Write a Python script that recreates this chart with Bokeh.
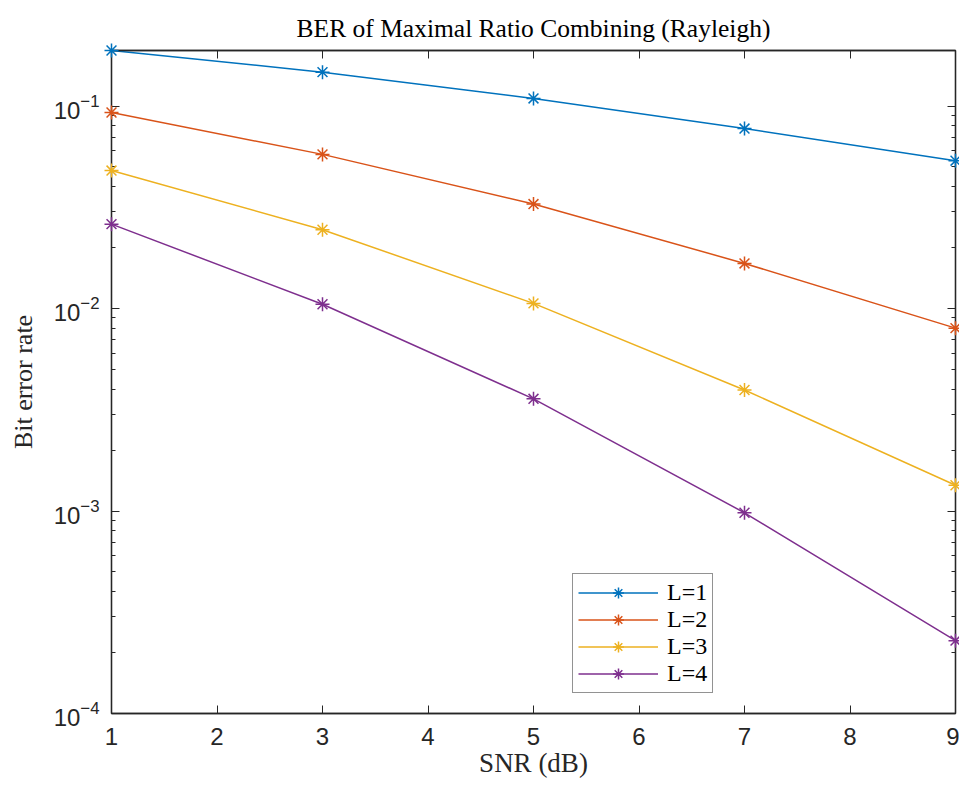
from bokeh.plotting import figure
from bokeh.models import (Range1d, FixedTicker, LinearAxis, LogAxis, Legend, LegendItem,
                          CustomJSTickFormatter)
from bokeh.embed import file_html
from bokeh.resources import INLINE

# ---- data ----
snr_db = [1, 3, 5, 7, 9]
ber_l1 = [0.188, 0.147, 0.109, 0.0774, 0.0537]
ber_l2 = [0.0929, 0.0577, 0.0328, 0.0167, 0.0080]
ber_l3 = [0.0480, 0.0245, 0.0106, 0.00396, 0.00134]
ber_l4 = [0.0261, 0.0105, 0.00358, 0.00098, 0.000229]
series_labels = ["L=1", "L=2", "L=3", "L=4"]
series_colors = ["#0072BD", "#D95319", "#EDB120", "#7E2F8E"]

x_ticks = [1, 2, 3, 4, 5, 6, 7, 8, 9]
y_decades = [1e-4, 1e-3, 1e-2, 1e-1]
y_min, y_max = 1e-4, 0.188

title_text = "BER of Maximal Ratio Combining (Rayleigh)"
x_label = "SNR (dB)"
y_label = "Bit error rate"

AX = "#262626"
SERIF = "Liberation Serif"
SANS = "Liberation Sans"

y_minor = [m * d for d in y_decades for m in range(2, 10) if m * d <= y_max]

p = figure(width=959, height=783, output_backend="svg", toolbar_location=None,
           y_axis_type="log", x_range=Range1d(1, 9), y_range=Range1d(y_min, y_max),
           min_border_left=111, min_border_right=4, min_border_top=50, min_border_bottom=70,
           title=title_text)

p.xgrid.visible = False
p.ygrid.visible = False
p.outline_line_color = AX
p.outline_line_width = 1.3
p.background_fill_color = "white"
p.border_fill_color = "white"

p.title.text_font = SERIF
p.title.text_font_size = "25.5px"
p.title.text_font_style = "normal"
p.title.text_color = "#000000"
p.title.align = "center"
p.title.standoff = 15

# bottom axis
xa = p.xaxis[0]
xa.ticker = FixedTicker(ticks=x_ticks)
xa.major_tick_in = 8
xa.major_tick_out = 0
xa.minor_tick_in = 0
xa.minor_tick_out = 0
xa.axis_line_color = AX
xa.axis_line_width = 1.3
xa.major_tick_line_color = AX
xa.major_label_text_font = SANS
xa.major_label_text_font_size = "24px"
xa.major_label_text_color = AX
xa.major_label_standoff = 14
xa.axis_label = x_label
xa.axis_label_text_font = SERIF
xa.axis_label_text_font_size = "27px"
xa.axis_label_text_font_style = "normal"
xa.axis_label_text_color = AX
xa.axis_label_standoff = 0

# left axis
ya = p.yaxis[0]
ya.ticker = FixedTicker(ticks=y_decades, minor_ticks=y_minor)
ya.major_tick_in = 8
ya.major_tick_out = 0
ya.minor_tick_in = 4
ya.minor_tick_out = 0
ya.axis_line_color = AX
ya.axis_line_width = 1.3
ya.major_tick_line_color = AX
ya.minor_tick_line_color = AX
ya.major_label_text_font = SANS
ya.major_label_text_font_size = "24px"
ya.major_label_text_color = AX
ya.major_label_standoff = 12
ya.axis_label = y_label
ya.axis_label_text_font = SERIF
ya.axis_label_text_font_size = "26px"
ya.axis_label_text_font_style = "normal"
ya.axis_label_text_color = AX
ya.axis_label_standoff = 13

blank = CustomJSTickFormatter(code="return ''")

top = LinearAxis(ticker=FixedTicker(ticks=x_ticks), formatter=blank,
                 major_tick_in=8, major_tick_out=0, minor_tick_in=0, minor_tick_out=0,
                 axis_line_color=AX, axis_line_width=1.3, major_tick_line_color=AX,
                 major_label_standoff=0, major_label_text_font_size="1px")
p.add_layout(top, "above")

right = LogAxis(ticker=FixedTicker(ticks=y_decades, minor_ticks=y_minor), formatter=blank,
                major_tick_in=8, major_tick_out=0, minor_tick_in=4, minor_tick_out=0,
                axis_line_color=AX, axis_line_width=1.3, major_tick_line_color=AX,
                minor_tick_line_color=AX, major_label_standoff=0,
                major_label_text_font_size="1px")
p.add_layout(right, "right")

items = []
for lab, col, ys in zip(series_labels, series_colors, [ber_l1, ber_l2, ber_l3, ber_l4]):
    lr = p.line(snr_db, ys, line_color=col, line_width=1.5)
    sr = p.scatter(snr_db, ys, marker="asterisk", size=14, line_color=col, line_width=1.5,
                   level="overlay")
    items.append(LegendItem(label=lab, renderers=[lr, sr]))

legend = Legend(items=items, location=(461, 20))
legend.label_text_font = SERIF
legend.label_text_font_size = "24px"
legend.label_text_color = "#000000"
legend.glyph_width = 80
legend.glyph_height = 27
legend.label_height = 27
legend.padding = 5
legend.spacing = 0
legend.label_standoff = 9
legend.border_line_color = AX
legend.border_line_width = 1.2
legend.background_fill_color = "white"
legend.background_fill_alpha = 1.0
p.add_layout(legend)

open("out.html", "w").write(file_html(p, INLINE))
